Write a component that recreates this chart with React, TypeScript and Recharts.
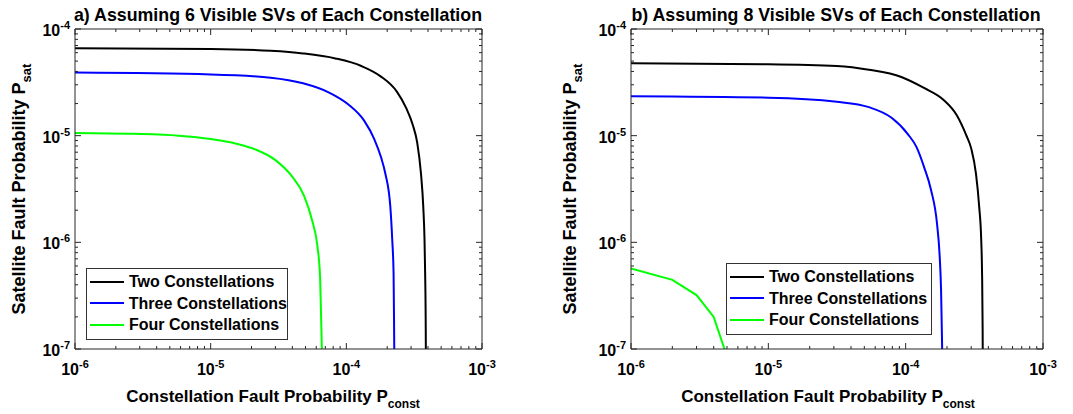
import { Legend, Line, LineChart, XAxis, YAxis } from 'recharts';

// ---- data (x = P_const, y = P_sat) ----
// a) 6 visible SVs per constellation
const twoX6 = [1e-6, 1e-5, 2.77e-5, 4.8e-5, 8.3e-5, 1.29e-4, 1.79e-4, 2.35e-4, 2.77e-4, 3.09e-4, 3.33e-4, 3.55e-4, 3.69e-4, 3.77e-4, 3.81e-4, 3.85e-4, 3.86e-4];
const twoY6 = [6.6e-5, 6.5e-5, 6.25e-5, 5.9e-5, 5.3e-5, 4.5e-5, 3.6e-5, 2.6e-5, 1.8e-5, 1.26e-5, 8.6e-6, 4.4e-6, 2.16e-6, 1.05e-6, 5.1e-7, 1.5e-7, 7e-8];
const threeX6 = [1e-6, 1e-5, 2.77e-5, 4.8e-5, 7.4e-5, 1.03e-4, 1.36e-4, 1.6e-4, 1.8e-4, 1.94e-4, 2.11e-4, 2.18e-4, 2.23e-4, 2.25e-4, 2.26e-4];
const threeY6 = [3.9e-5, 3.75e-5, 3.5e-5, 3.1e-5, 2.55e-5, 1.97e-5, 1.37e-5, 9.4e-6, 6.3e-6, 4.4e-6, 2.16e-6, 1.05e-6, 5.1e-7, 1.5e-7, 7e-8];
const fourX6 = [1e-6, 2.7e-6, 5.8e-6, 1e-5, 1.55e-5, 2.15e-5, 3e-5, 3.95e-5, 4.9e-5, 5.6e-5, 6.1e-5, 6.4e-5, 6.5e-5, 6.6e-5, 6.65e-5];
const fourY6 = [1.06e-5, 1.04e-5, 1.0e-5, 9.3e-6, 8.4e-6, 7.4e-6, 5.9e-6, 4.2e-6, 2.7e-6, 1.6e-6, 9.5e-7, 4.8e-7, 2.3e-7, 1e-7, 6e-8];

// b) 8 visible SVs per constellation
const twoX8 = [1e-6, 1e-5, 3.15e-5, 5.4e-5, 9.3e-5, 1.36e-4, 1.89e-4, 2.35e-4, 2.76e-4, 3.0e-4, 3.25e-4, 3.43e-4, 3.55e-4, 3.6e-4, 3.635e-4, 3.645e-4];
const twoY8 = [4.77e-5, 4.68e-5, 4.5e-5, 4.15e-5, 3.55e-5, 2.8e-5, 2.16e-5, 1.56e-5, 1.01e-5, 7.6e-6, 4.4e-6, 2.16e-6, 1.05e-6, 5.1e-7, 1.5e-7, 7e-8];
const threeX8 = [1e-6, 1e-5, 3.15e-5, 5.4e-5, 7.9e-5, 1.04e-4, 1.2e-4, 1.36e-4, 1.53e-4, 1.69e-4, 1.77e-4, 1.81e-4, 1.84e-4, 1.85e-4];
const threeY8 = [2.34e-5, 2.27e-5, 2.08e-5, 1.85e-5, 1.47e-5, 1.03e-5, 7.8e-6, 5.1e-6, 3.1e-6, 1.51e-6, 7.3e-7, 3.6e-7, 1.2e-7, 7e-8];
const fourX8 = [1e-6, 2e-6, 3e-6, 4e-6, 5e-6];
const fourY8 = [5.7e-7, 4.45e-7, 3.2e-7, 2.0e-7, 8.5e-8];

const names = ['Two Constellations', 'Three Constellations', 'Four Constellations'];
const colors = ['#000000', '#0000ff', '#00ff00'];

const xTicks: number[] = [];
for (let d = -6; d < -3; d++) for (let m = 1; m < 10; m++) xTicks.push(m * Math.pow(10, d));
xTicks.push(1e-3);
const yTicks: number[] = [];
for (let d = -7; d < -4; d++) for (let m = 1; m < 10; m++) yTicks.push(m * Math.pow(10, d));
yTicks.push(1e-4);

const FONT = '"Liberation Sans", Arial, sans-serif';
const AX = '#262626';

const toPts = (xs: number[], ys: number[]) => xs.map((x, i) => ({ x, y: ys[i] }));
const expo = (v: number) => Math.round(Math.log10(v));
const isMajor = (v: number) => Math.abs(Math.log10(v) - expo(v)) < 1e-9;

// ticks point inwards like matlab; labels only on bottom/left
const BottomTick = (p: any) => {
  const v = p.payload.value;
  const major = isMajor(v);
  return (
    <g>
      <line x1={p.x} x2={p.x} y1={p.y} y2={p.y - (major ? 6 : 3)} stroke={AX} />
      {major && (
        <text x={p.x} y={p.y + 26} textAnchor="middle" fontFamily={FONT} fontWeight="bold" fontSize={16} fill="#000">
          10<tspan dy={-7} fontSize={11}>{expo(v)}</tspan>
        </text>
      )}
    </g>
  );
};

const TopTick = (p: any) => {
  const major = isMajor(p.payload.value);
  return <line x1={p.x} x2={p.x} y1={p.y} y2={p.y + (major ? 6 : 3)} stroke={AX} />;
};

const LeftTick = (p: any) => {
  const v = p.payload.value;
  const major = isMajor(v);
  return (
    <g>
      <line x1={p.x} x2={p.x + (major ? 6 : 3)} y1={p.y} y2={p.y} stroke={AX} />
      {major && (
        <text x={p.x - 5} y={p.y + 7} textAnchor="end" fontFamily={FONT} fontWeight="bold" fontSize={16} fill="#000">
          10<tspan dy={-7} fontSize={11}>{expo(v)}</tspan>
        </text>
      )}
    </g>
  );
};

const RightTick = (p: any) => {
  const major = isMajor(p.payload.value);
  return <line x1={p.x} x2={p.x - (major ? 6 : 3)} y1={p.y} y2={p.y} stroke={AX} />;
};

const LegendBox = ({ lineW }: { lineW: number }) => (
  <div style={{ border: '1px solid #333', background: '#fff', padding: '2px 0 3px 3px', fontFamily: FONT, fontWeight: 'bold', fontSize: 16, lineHeight: '21.5px' }}>
    {names.map((n, i) => (
      <div key={n} style={{ display: 'flex', alignItems: 'center', whiteSpace: 'nowrap' }}>
        <span style={{ display: 'inline-block', width: lineW, height: 2, background: colors[i], marginRight: 5 }} />
        <span>{n}</span>
      </div>
    ))}
  </div>
);

interface PanelProps {
  left: number;
  width: number;
  margin: { top: number; right: number; bottom: number; left: number };
  lines: { x: number[]; y: number[]; linear?: boolean }[];
  legend: { left: number; top: number; width: number; lineW: number };
}

const Panel = ({ left, width, margin, lines, legend }: PanelProps) => (
  <div style={{ position: 'absolute', left, top: 0 }}>
    <LineChart width={width} height={414} margin={margin}>
      <XAxis xAxisId="b" type="number" dataKey="x" scale="log" domain={[1e-6, 1e-3]} allowDataOverflow ticks={xTicks} interval={0}
        tick={BottomTick} tickLine={false} tickSize={0} tickMargin={0} height={1} axisLine={{ stroke: AX }} />
      <XAxis xAxisId="t" orientation="top" type="number" dataKey="x" scale="log" domain={[1e-6, 1e-3]} allowDataOverflow ticks={xTicks} interval={0}
        tick={TopTick} tickLine={false} tickSize={0} tickMargin={0} height={1} axisLine={{ stroke: AX }} />
      <YAxis yAxisId="l" type="number" dataKey="y" scale="log" domain={[1e-7, 1e-4]} allowDataOverflow ticks={yTicks} interval={0}
        tick={LeftTick} tickLine={false} tickSize={0} tickMargin={0} width={1} axisLine={{ stroke: AX }} />
      <YAxis yAxisId="r" orientation="right" type="number" dataKey="y" scale="log" domain={[1e-7, 1e-4]} allowDataOverflow ticks={yTicks} interval={0}
        tick={RightTick} tickLine={false} tickSize={0} tickMargin={0} width={1} axisLine={{ stroke: AX }} />
      {lines.map((l, i) => (
        <Line key={names[i]} name={names[i]} xAxisId="b" yAxisId="l" data={toPts(l.x, l.y)} dataKey="y"
          type={l.linear ? 'linear' : 'monotone'} stroke={colors[i]} strokeWidth={2} dot={false} isAnimationActive={false} />
      ))}
      <Legend layout="vertical" align="center" verticalAlign="middle"
        wrapperStyle={{ left: legend.left, top: legend.top, width: legend.width, height: 'auto' }}
        content={() => <LegendBox lineW={legend.lineW} />} />
    </LineChart>
  </div>
);

const AxisText = ({ cx, cy, main, sub, rotate, size }: { cx: number; cy: number; main: string; sub: string; rotate?: boolean; size: number }) => (
  <text x={cx} y={cy} textAnchor="middle" fontFamily={FONT} fontWeight="bold" fontSize={size} fill="#000"
    transform={rotate ? `rotate(-90, ${cx}, ${cy})` : undefined}>
    {main}<tspan dy={6} fontSize={size - 5}>{sub}</tspan>
  </text>
);

export default function App() {
  return (
    <div style={{ position: 'absolute', left: 0, top: 0, width: 1073, height: 414, background: '#fff' }}>
      <Panel left={0} width={536} margin={{ top: 28, right: 53, bottom: 64, left: 74 }}
        lines={[{ x: twoX6, y: twoY6 }, { x: threeX6, y: threeY6 }, { x: fourX6, y: fourY6 }]}
        legend={{ left: 86, top: 268, width: 202, lineW: 34 }} />
      <Panel left={536} width={537} margin={{ top: 28, right: 29, bottom: 64, left: 94 }}
        lines={[{ x: twoX8, y: twoY8 }, { x: threeX8, y: threeY8 }, { x: fourX8, y: fourY8, linear: true }]}
        legend={{ left: 190, top: 263, width: 206, lineW: 34 }} />
      <svg width={1073} height={414} style={{ position: 'absolute', left: 0, top: 0, pointerEvents: 'none' }}>
        <text x={278} y={21} textAnchor="middle" fontFamily={FONT} fontWeight="bold" fontSize={17.8}>a) Assuming 6 Visible SVs of Each Constellation</text>
        <text x={836} y={21} textAnchor="middle" fontFamily={FONT} fontWeight="bold" fontSize={17.8}>b) Assuming 8 Visible SVs of Each Constellation</text>
        <AxisText cx={273} cy={402} main="Constellation Fault Probability P" sub="const" size={17} />
        <AxisText cx={828} cy={402} main="Constellation Fault Probability P" sub="const" size={17} />
        <AxisText cx={25} cy={189} main="Satellite Fault Probability P" sub="sat" rotate size={18} />
        <AxisText cx={576} cy={189} main="Satellite Fault Probability P" sub="sat" rotate size={18} />
      </svg>
    </div>
  );
}
